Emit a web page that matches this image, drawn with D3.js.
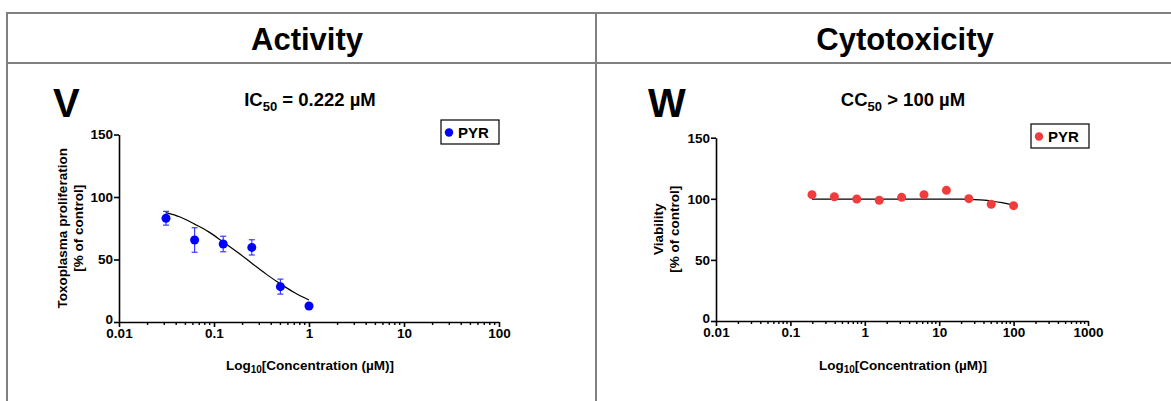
<!DOCTYPE html>
<html lang="en">
<head>
    <meta charset="utf-8">
    <title>Activity / Cytotoxicity</title>
    <style>
        body { margin: 0; background: #fff; }
        svg { display: block; font-family: "Liberation Sans", Arial, sans-serif; }
        .axis path, .axis line { fill: none; stroke: #000; stroke-width: 1.6px; }
        .axis text { font-size: 13.5px; font-weight: bold; fill: #000; font-family: "Liberation Sans", Arial, sans-serif; }
        .grid-line { stroke: #808080; stroke-width: 2px; }
        .fit { fill: none; stroke: #000; stroke-width: 1.2px; }
        .lbl { font-weight: bold; fill: #000; }
    </style>
</head>
<body>
<svg width="1171" height="401"></svg>
<script src="https://cdn.jsdelivr.net/npm/d3@7"></script>
<script>
    // ---- data ----
    // Activity (panel V)
    const concActivity = [0.03125, 0.0625, 0.125, 0.25, 0.5, 1];
    const meanActivity = [83, 65.6, 62.4, 59.7, 28.3, 12.8];
    const errActivity  = [5.5, 9.8, 6.2, 6.1, 6, 1];
    const fitConcActivity = [0.03125, 0.044, 0.0625, 0.088, 0.125, 0.177, 0.25, 0.354, 0.5, 0.707, 1];
    const fitActivity     = [87.5, 84, 78.3, 72.1, 64, 55.8, 47, 38.3, 30.5, 23.4, 17.6];

    // Cytotoxicity (panel W)
    const concCyto = [0.195, 0.39, 0.78, 1.5625, 3.125, 6.25, 12.5, 25, 50, 100];
    const meanCyto = [103.4, 101.7, 99.8, 98.8, 101.2, 103.4, 106.9, 100.1, 95.5, 94.4];
    const fitConcCyto = [0.195, 1, 10, 20, 30, 40, 50, 70, 100];
    const fitCyto     = [99.8, 99.8, 99.8, 99.7, 99.4, 98.9, 98.2, 96.8, 94.5];

    // tick labels
    const yTicks = [0, 50, 100, 150];
    const xTicksActivity = [0.01, 0.1, 1, 10, 100];
    const xTicksCyto = [0.01, 0.1, 1, 10, 100, 1000];

    const svg = d3.select("svg");

    // ---- table frame ----
    const frame = svg.append("g");
    frame.append("line").attr("class", "grid-line").attr("x1", 6).attr("x2", 1171).attr("y1", 13).attr("y2", 13);
    frame.append("line").attr("class", "grid-line").attr("x1", 6).attr("x2", 1171).attr("y1", 63).attr("y2", 63);
    frame.append("line").attr("class", "grid-line").attr("x1", 7).attr("x2", 7).attr("y1", 12).attr("y2", 401);
    frame.append("line").attr("class", "grid-line").attr("x1", 596).attr("x2", 596).attr("y1", 12).attr("y2", 401);

    svg.append("text").attr("class", "lbl").attr("x", 307).attr("y", 50)
        .attr("text-anchor", "middle").style("font-size", "31px").text("Activity");
    svg.append("text").attr("class", "lbl").attr("x", 905).attr("y", 50)
        .attr("text-anchor", "middle").style("font-size", "31px").text("Cytotoxicity");

    function drawPanel(p) {
        const x = d3.scaleLog().domain(p.xDomain).range(p.xRange);
        const y = d3.scaleLinear().domain([0, 150]).range(p.yRange);
        const g = svg.append("g");

        // panel letter
        g.append("text").attr("class", "lbl").attr("x", p.letterX).attr("y", 117)
            .style("font-size", "40px").text(p.letter);

        // subtitle with subscript
        const st = g.append("text").attr("class", "lbl").attr("x", p.titleX).attr("y", 106)
            .attr("text-anchor", "middle").style("font-size", "18.5px");
        st.append("tspan").text(p.titlePre);
        st.append("tspan").attr("dy", 5).style("font-size", "13px").text("50");
        st.append("tspan").attr("dy", -5).text(p.titlePost);

        // minor ticks on x axis
        const minors = x.ticks().filter(v => !p.xTicks.includes(v));
        g.append("g").selectAll("line").data(minors).join("line")
            .attr("x1", d => x(d)).attr("x2", d => x(d))
            .attr("y1", p.yRange[0]).attr("y2", p.yRange[0] + 3)
            .attr("stroke", "#000").attr("stroke-width", 1.4);

        const xAxis = d3.axisBottom(x).tickValues(p.xTicks).tickFormat(d => String(d))
            .tickSizeInner(5).tickSizeOuter(0).tickPadding(1);
        g.append("g").attr("class", "axis")
            .attr("transform", "translate(0," + p.yRange[0] + ")").call(xAxis);

        const yAxis = d3.axisLeft(y).tickValues(yTicks).tickSizeInner(5).tickSizeOuter(0).tickPadding(1);
        g.append("g").attr("class", "axis")
            .attr("transform", "translate(" + p.xRange[0] + ",0)").call(yAxis)
            .selectAll(".tick text").filter(d => d === 0).attr("dy", "0.12em");

        // x axis title
        const xt = g.append("text").attr("class", "lbl")
            .attr("x", p.xTitleX).attr("y", 370)
            .attr("text-anchor", "middle").style("font-size", "13.5px");
        xt.append("tspan").text("Log");
        xt.append("tspan").attr("dy", 3).style("font-size", "10px").text("10");
        xt.append("tspan").attr("dy", -3).text("[Concentration (\u00b5M)]");

        // y axis title (two lines)
        const yc = (p.yRange[0] + p.yRange[1]) / 2;
        p.yTitle.forEach((t, i) => {
            g.append("text").attr("class", "lbl")
                .attr("transform", "translate(" + (p.yTitleX + i * 16) + "," + yc + ") rotate(-90)")
                .attr("text-anchor", "middle").style("font-size", "13.5px").text(t);
        });

        // fitted curve
        const line = d3.line().x(d => x(d[0])).y(d => y(d[1])).curve(d3.curveMonotoneX);
        g.append("path").attr("class", "fit")
            .attr("d", line(p.fitX.map((c, i) => [c, p.fitY[i]])));

        // error bars
        if (p.err) {
            const eb = g.append("g").attr("stroke", p.errColor).attr("stroke-width", 1.2);
            p.conc.forEach((c, i) => {
                const cx = x(c), top = y(p.mean[i] + p.err[i]), bot = y(p.mean[i] - p.err[i]);
                eb.append("line").attr("x1", cx).attr("x2", cx).attr("y1", top).attr("y2", bot);
                eb.append("line").attr("x1", cx - 3).attr("x2", cx + 3).attr("y1", top).attr("y2", top);
                eb.append("line").attr("x1", cx - 3).attr("x2", cx + 3).attr("y1", bot).attr("y2", bot);
            });
        }

        // points
        g.append("g").selectAll("circle").data(p.conc).join("circle")
            .attr("cx", d => x(d)).attr("cy", (d, i) => y(p.mean[i]))
            .attr("r", 4.5).attr("fill", p.color);

        // legend
        const lg = g.append("g").attr("transform", "translate(" + p.legend[0] + "," + p.legend[1] + ")");
        lg.append("rect").attr("width", p.legendW).attr("height", 24)
            .attr("fill", "#fff").attr("stroke", "#000").attr("stroke-width", 1.2);
        lg.append("circle").attr("cx", 8).attr("cy", 12.5).attr("r", 4.2).attr("fill", p.color);
        lg.append("text").attr("class", "lbl").attr("x", 17).attr("y", 18)
            .style("font-size", "15px").text("PYR");
    }

    drawPanel({
        letter: "V", letterX: 53,
        titlePre: "IC", titlePost: " = 0.222 \u00b5M", titleX: 310,
        xDomain: [0.01, 100], xRange: [119, 499], yRange: [322, 134.5],
        xTicks: xTicksActivity, xTitleX: 310,
        yTitle: ["Toxoplasma proliferation", "[% of control]"], yTitleX: 67,
        conc: concActivity, mean: meanActivity, err: errActivity, errColor: "#3a3aff",
        fitX: fitConcActivity, fitY: fitActivity,
        color: "#0000ff", legend: [441, 120], legendW: 58
    });

    drawPanel({
        letter: "W", letterX: 648,
        titlePre: "CC", titlePost: " > 100 \u00b5M", titleX: 903,
        xDomain: [0.01, 1000], xRange: [716, 1088], yRange: [321, 137.7],
        xTicks: xTicksCyto, xTitleX: 903,
        yTitle: ["Viability", "[% of control]"], yTitleX: 663,
        conc: concCyto, mean: meanCyto, err: null,
        fitX: fitConcCyto, fitY: fitCyto,
        color: "#f03c3c", legend: [1031, 124], legendW: 58
    });
</script>
</body>
</html>
